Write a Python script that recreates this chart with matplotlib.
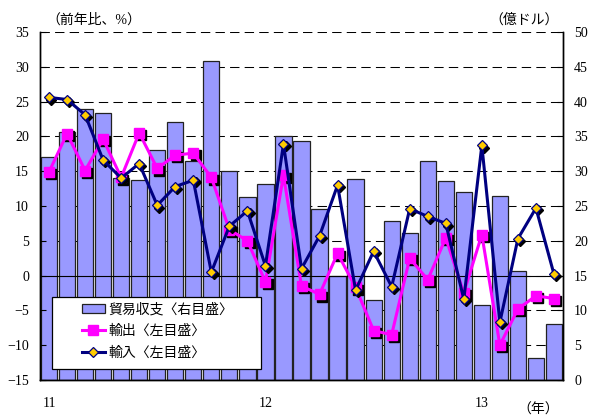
import numpy as np
import matplotlib
matplotlib.use("Agg")
import matplotlib.pyplot as plt
from matplotlib.patches import Rectangle
from matplotlib.transforms import offset_copy

# monthly, Jan 2011 - May 2013
MONTHS = [f"{y}-{m:02d}" for y in (2011, 2012, 2013) for m in range(1, 13)][:29]
YEAR_POS = [0, 12, 24]
YEAR_LABELS = ["11", "12", "13"]

# trade balance (right axis, 100 million USD)
balance = [32.0, 35.7, 39.0, 38.3, 29.0, 28.7, 33.0, 37.1, 31.4, 45.9,
           30.0, 26.3, 28.1, 35.0, 34.3, 24.6, 15.0, 28.9, 11.5, 22.8,
           21.1, 31.4, 28.6, 27.0, 10.8, 26.5, 15.7, 3.1, 8.1]
# exports, y/y % (left axis)
exports = [14.9, 20.4, 15.1, 19.6, 14.1, 20.5, 15.4, 17.3, 17.6, 14.1,
           6.6, 5.0, -0.9, 14.4, -1.5, -2.7, 3.2, -1.7, -7.9, -8.5,
           2.5, -0.6, 5.4, -2.5, 5.9, -10.0, -4.8, -2.9, -3.3]
# imports, y/y % (left axis)
imports = [25.6, 25.3, 23.1, 16.6, 14.0, 16.1, 10.1, 12.8, 13.7, 0.5,
           7.1, 9.3, 1.4, 18.9, 1.0, 5.7, 13.0, -2.1, 3.5, -1.6,
           9.6, 8.5, 7.5, -3.4, 18.7, -6.7, 5.3, 9.7, 0.2]

LBL_BAL = "貿易収支〈右目盛〉"
LBL_EXP = "輸出〈左目盛〉"
LBL_IMP = "輸入〈左目盛〉"

FAM = ["Liberation Serif", "Noto Sans CJK JP"]
plt.rcParams["font.family"] = FAM
plt.rcParams["font.size"] = 10

fig = plt.figure(figsize=(5.92, 4.19), dpi=100)
ax2 = fig.add_axes([0.0676, 0.0931, 0.8834, 0.8305])
ax = ax2.twinx()
ax.set_zorder(ax2.get_zorder() + 1)
ax.patch.set_visible(False)

x = np.arange(len(MONTHS))

# bars on right axis, grid behind them
ax2.bar(x, balance, width=0.9, color="#9999ff", edgecolor="#222222",
        linewidth=0.9, label=LBL_BAL, zorder=2)
ax2.set_ylim(0, 50)
ax2.set_yticks(np.arange(0, 51, 5))
ax2.grid(axis="y", color="black", linestyle=(0, (9, 5)), linewidth=0.75, zorder=0)
ax2.set_axisbelow(True)
ax2.set_xlim(-0.5, len(MONTHS) - 0.5)
ax2.set_xticks(YEAR_POS)
ax2.set_xticklabels(YEAR_LABELS)
ax2.tick_params(axis="x", length=0, pad=12, labelsize=10)

# lines on left axis (moved to left side)
ax.yaxis.tick_left()
ax.yaxis.set_label_position("left")
ax2.yaxis.tick_right()
ax.set_ylim(-15, 35)
ax.set_yticks(np.arange(-15, 36, 5))
ax.axhline(0, color="black", linewidth=0.8, zorder=1)

sh = offset_copy(ax.transData, fig=fig, x=1.6, y=-1.6, units="points")
ax.plot(x, exports, "s", color="black", markersize=7, transform=sh, zorder=2)
ax.plot(x, exports, "-s", color="#ff00ff", linewidth=2.2, markersize=7,
        markeredgecolor="#ff00ff", label=LBL_EXP, zorder=3)
ax.plot(x, imports, "D", color="black", markersize=5.5, transform=sh, zorder=4)
ax.plot(x, imports, "-D", color="#000080", linewidth=2.2, markersize=5.5,
        markerfacecolor="#ffcc00", markeredgecolor="#000080",
        markeredgewidth=0.9, label=LBL_IMP, zorder=5)

for a in (ax, ax2):
    a.spines["top"].set_visible(False)
    for s in ("left", "right", "bottom"):
        a.spines[s].set_linewidth(1.0)
ax.tick_params(axis="y", direction="in", length=4, pad=8, labelsize=10)
ax2.tick_params(axis="y", direction="in", length=4, pad=8, labelsize=10)

# legend box
ax.add_patch(Rectangle((0.023, 0.032), 0.399, 0.207, transform=ax.transAxes,
                       facecolor="white", edgecolor="black", linewidth=0.9,
                       zorder=6))
h2, l2 = ax2.get_legend_handles_labels()
h1, l1 = ax.get_legend_handles_labels()
leg = ax.legend(h2 + h1[-2:], l2 + l1[-2:], loc="upper left",
                bbox_to_anchor=(0.080, 0.222), frameon=False, borderpad=0,
                borderaxespad=0, handlelength=1.65, handletextpad=0.25,
                labelspacing=0.62, fontsize=10)
leg.set_zorder(7)

fig.text(0.078, 0.952, "（前年比、%）", fontsize=10, va="center", ha="left")
fig.text(0.944, 0.952, "（億ドル）", fontsize=10, va="center", ha="right")
fig.text(0.909, 0.022, "（年）", fontsize=10, va="center", ha="center")

fig.savefig("out.png", dpi=100)
